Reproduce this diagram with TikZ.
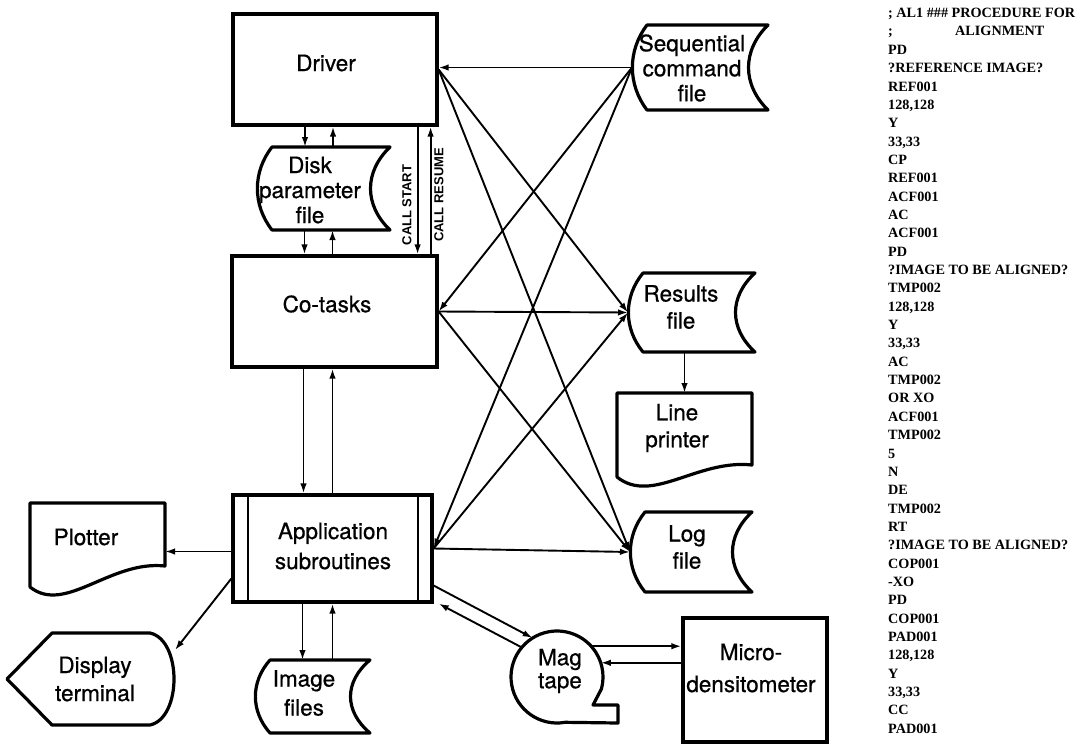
\documentclass[tikz,border=0pt]{standalone}
\usepackage{fontspec}
\setmainfont{TeX Gyre Heros}
\newfontfamily\lblfnt{TeX Gyre Heros}[FakeBold=0.7]
\newfontfamily\listfnt{Liberation Serif}
\newfontfamily\callfnt{Liberation Sans}
\usetikzlibrary{arrows.meta}
\newcommand\storedshape[5]{%
  \node[hold, minimum width={#4-#2}, minimum height={#5-#3}] (#1) at ({(#2+#4)/2},{(#3+#5)/2}) {};
  \draw[shp] ({#2+15},#3) -- (#4,#3)
    .. controls ({#4-26},{#3+0.3*(#5-#3)}) and ({#4-26},{#5-0.3*(#5-#3)}) .. (#4,#5)
    -- ({#2+15},#5)
    .. controls ({#2-4.5},{#5-0.3*(#5-#3)}) and ({#2-4.5},{#3+0.3*(#5-#3)}) .. ({#2+15},#3) -- cycle;}
\begin{document}
\begin{tikzpicture}[x=1pt,y=-1pt,
  shp/.style={line width=3.2pt, line join=round},
  conn/.style={line width=1.9pt, -{Latex[length=10pt,width=6.5pt]}},
  lbl/.style={font=\lblfnt\fontsize{22.5}{26}\selectfont, align=center, inner sep=0pt},
  rbox/.style={draw, line width=3.2pt, inner sep=0pt},
  hold/.style={inner sep=0pt, outer sep=0pt},
  calllbl/.style={rotate=90, inner sep=0pt, font=\callfnt\bfseries\fontsize{13}{13}\selectfont},
  listing/.style={anchor=north west, align=left, inner sep=0pt, font=\listfnt\bfseries\fontsize{14.2}{18.35}\selectfont}]
\useasboundingbox (0,0) rectangle (1088,745);

% ---- boxes ----
\node[rbox, minimum width=204, minimum height=111] (driver) at (335,69.5) {};
\node[lbl] (driverT) at (326,63) {Driver};

\storedshape{disk}{257}{147}{390}{230}
\node[lbl, font=\lblfnt\fontsize{22.5}{25}\selectfont] (diskT) at (310,190) {Disk\\parameter\\file};

\node[rbox, minimum width=205, minimum height=111] (cotasks) at (334.5,311.5) {};
\node[lbl] (cotasksT) at (327,304) {Co-tasks};

\node[rbox, minimum width=199, minimum height=107] (app) at (332.5,548.5) {};
\draw[line width=2.2pt] (248,495) -- (248,602);
\draw[line width=2.2pt] (418,495) -- (418,602);
\node[lbl, font=\lblfnt\fontsize{22.5}{30}\selectfont] (appT) at (333,546) {Application\\subroutines};

% Plotter (document)
\node[hold, minimum width=135, minimum height=94] (plotter) at (97.5,550) {};
\draw[shp] (30,503) -- (165,503) -- (165,566)
  .. controls (110,560) and (65,615) .. (30,587) -- cycle;
\node[lbl] (plotterT) at (86,537) {Plotter};

% Display terminal
\node[hold, minimum width=168, minimum height=92] (display) at (91,679) {};
\draw[shp] (7,679) -- (52,633) -- (150,633)
  .. controls (182,640) and (182,718) .. (150,725) -- (52,725) -- cycle;
\node[lbl, font=\lblfnt\fontsize{22.5}{28}\selectfont] (displayT) at (95,679) {Display\\terminal};

% Image files
\storedshape{images}{255}{660}{370}{733}
\node[lbl, font=\lblfnt\fontsize{22.5}{29}\selectfont] (imagesT) at (304,693) {Image\\files};

% Sequential command file
\storedshape{seq}{632}{25}{768}{110}
\node[lbl, font=\lblfnt\fontsize{22.5}{25}\selectfont] (seqT) at (692,68) {Sequential\\command\\file};

% Results file
\storedshape{results}{628}{273}{755}{352}
\node[lbl, font=\lblfnt\fontsize{22.5}{27}\selectfont] (resultsT) at (681,307) {Results\\file};

% Line printer (document)
\node[hold, minimum width=135, minimum height=88] (lp) at (684.5,437) {};
\draw[shp] (617,393) -- (752,393) -- (752,465)
  .. controls (697,459) and (652,505) .. (617,477) -- cycle;
\node[lbl, font=\lblfnt\fontsize{22.5}{27}\selectfont] (lpT) at (677,428) {Line\\printer};

% Log file
\storedshape{log}{630}{512}{752}{592}
\node[lbl, font=\lblfnt\fontsize{22.5}{27}\selectfont] (logT) at (687,547) {Log\\file};

% Mag tape
\node[hold, circle, minimum size=92] (mag) at (557,677) {};
\draw[shp] (565,722.3) arc[start angle=80, end angle=375, radius=46]
  -- (593,705) -- (618,705) -- (618,723) -- cycle;
\node[lbl, font=\lblfnt\fontsize{22.5}{23}\selectfont] (magT) at (560,671) {Mag\\tape};

% Micro-densitometer
\node[rbox, minimum width=144, minimum height=124] (micro) at (755,680) {};
\node[lbl, font=\lblfnt\fontsize{22.5}{32}\selectfont] (microT) at (751,668) {Micro-\\densitometer};

% ---- connectors ----
\draw[conn] ([xshift=-30pt]driver.south) -- ([xshift=-30pt]driver.south |- disk.north);
\draw[conn] ([xshift=-2pt]driver.south |- disk.north) -- ([xshift=-2pt]driver.south);
\draw[conn] ([xshift=-30pt]cotasks.north |- disk.south) -- ([xshift=-30pt]cotasks.north);
\draw[conn] ([xshift=-2pt]cotasks.north) -- ([xshift=-2pt]cotasks.north |- disk.south);
\draw[conn] ([xshift=-31pt]cotasks.south) -- ([xshift=-31pt]cotasks.south |- app.north);
\draw[conn] ([xshift=-2pt]cotasks.south |- app.north) -- ([xshift=-2pt]cotasks.south);
\draw[conn] ([xshift=-30pt]app.south) -- ([xshift=-30pt]app.south |- images.north);
\draw[conn] (app.south |- images.north) -- (app.south);

\draw[conn] ([xshift=-21pt]driver.south east) -- ([xshift=-21pt]driver.south east |- cotasks.north);
\draw[conn] ([xshift=-8pt]driver.south east |- cotasks.north) -- ([xshift=-8pt]driver.south east);
\node[calllbl] (callstart) at (407,205) {CALL START};
\node[calllbl] (callresume) at (439,195) {CALL RESUME};

\draw[conn] (seq.west) -- (seq.west -| driver.east);
\draw[conn] (seq.west) -- (cotasks.east);
\draw[conn] (seq.west) -- (app.east);
\draw[conn] (driver.east) -- (results.west);
\draw[conn] (driver.east) -- (log.west);
\draw[conn] (cotasks.east) -- (results.west);
\draw[conn] (cotasks.east) -- (log.west);
\draw[conn] (app.east) -- (results.west);
\draw[conn] (app.east) -- (log.west);
\draw[conn] (results.south -| lp.north) -- (lp.north);

\draw[conn] ([yshift=-3pt]app.west) -- ([yshift=-3pt]app.west -| plotter.east);
\draw[conn] ([yshift=-30pt]app.west) -- (display.19);

\draw[conn] ([yshift=-37pt]app.east) -- (mag.122);
\draw[conn] (mag.140) -- ([xshift=5pt]app.south east);
\draw[conn] (mag.42) -- (mag.42 -| micro.west);
\draw[conn] (micro.west |- mag.18) -- (mag.18);

% ---- listing ----
\node[listing] (code) at (888,8) {%
; AL1 \#\#\# PROCEDURE FOR\\
\makebox[67pt][l]{;}ALIGNMENT\\
PD\\
?REFERENCE IMAGE?\\
REF001\\
128,128\\
Y\\
33,33\\
CP\\
REF001\\
ACF001\\
AC\\
ACF001\\
PD\\
?IMAGE TO BE ALIGNED?\\
TMP002\\
128,128\\
Y\\
33,33\\
AC\\
TMP002\\
OR XO\\
ACF001\\
TMP002\\
5\\
N\\
DE\\
TMP002\\
RT\\
?IMAGE TO BE ALIGNED?\\
COP001\\
-XO\\
PD\\
COP001\\
PAD001\\
128,128\\
Y\\
33,33\\
CC\\
PAD001};
\end{tikzpicture}
\end{document}
